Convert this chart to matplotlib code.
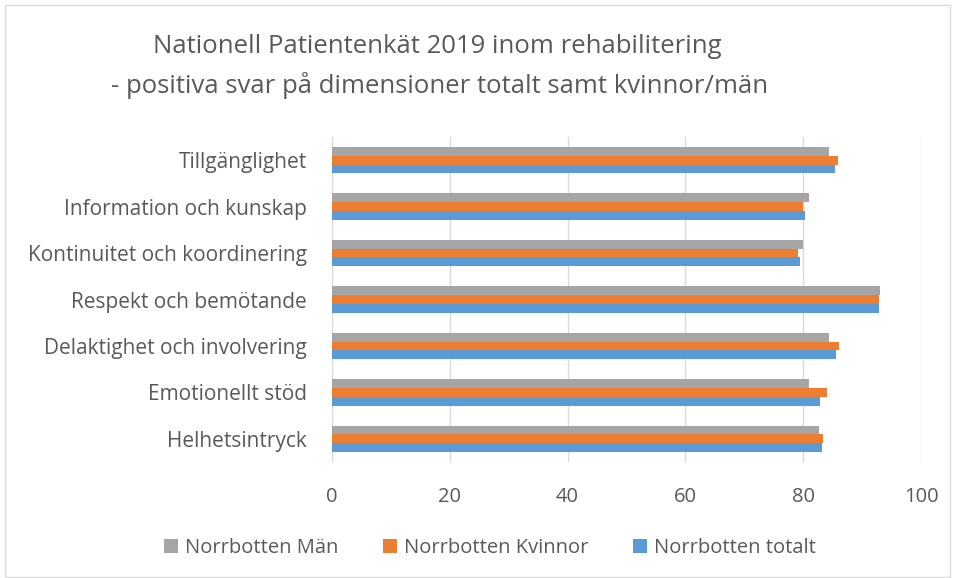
import numpy as np
import matplotlib.pyplot as plt
from matplotlib.patches import Patch

plt.rcParams['font.family'] = ['Open Sans', 'DejaVu Sans']

categories = ['Tillgänglighet', 'Information och kunskap', 'Kontinuitet och koordinering',
              'Respekt och bemötande', 'Delaktighet och involvering', 'Emotionellt stöd',
              'Helhetsintryck']
man = [84.4, 80.9, 80.0, 93.0, 84.4, 80.9, 82.7]
kvinnor = [85.9, 80.0, 79.1, 92.9, 86.1, 84.0, 83.4]
totalt = [85.4, 80.3, 79.5, 92.9, 85.5, 82.9, 83.2]

series = [('Norrbotten Män', man, '#A5A5A5'),
          ('Norrbotten Kvinnor', kvinnor, '#ED7D31'),
          ('Norrbotten totalt', totalt, '#5B9BD5')]

text_color = '#595959'

fig = plt.figure(figsize=(9.55, 5.78), dpi=100)
ax = fig.add_axes([332 / 955, 1 - 462 / 578, (921 - 332) / 955, (462 - 137) / 578])

y = np.arange(len(categories))[::-1]
h = 0.19
for i, (name, vals, col) in enumerate(series):
    ax.barh(y + (1 - i) * h, vals, height=h, color=col, zorder=3)

ax.set_xlim(0, 100)
ax.set_ylim(-0.5, len(categories) - 0.5)
ax.set_xticks(range(0, 101, 20))
ax.set_yticks(y)
ax.set_yticklabels(categories)
ax.tick_params(axis='both', length=0, labelsize=14.5, colors=text_color)
ax.tick_params(axis='y', labelsize=15, pad=18)
ax.tick_params(axis='x', pad=18)
ax.grid(axis='x', color='#D9D9D9', linewidth=1, zorder=0)
for s in ax.spines.values():
    s.set_visible(False)

fig.text(0.458, 0.919, 'Nationell Patientenkät 2019 inom rehabilitering', ha='center',
         va='center', fontsize=18.5, color=text_color)
fig.text(0.46, 0.852, '- positiva svar på dimensioner totalt samt kvinnor/män', ha='center',
         va='center', fontsize=18.5, color=text_color)

handles = [Patch(facecolor=col, label=name) for name, vals, col in series]
fig.legend(handles=handles, loc='center', bbox_to_anchor=(0.513, 0.052), ncol=3, frameon=False,
           fontsize=14.5, labelcolor=text_color, handlelength=0.7, handleheight=0.7,
           handletextpad=0.35, columnspacing=2.2)

fig.patches.append(plt.Rectangle((5 / 955, 0.002), 1 - 10 / 955, 0.99, transform=fig.transFigure,
                                 fill=False, edgecolor='#D9D9D9', linewidth=1))

fig.savefig('out.png', dpi=100)
